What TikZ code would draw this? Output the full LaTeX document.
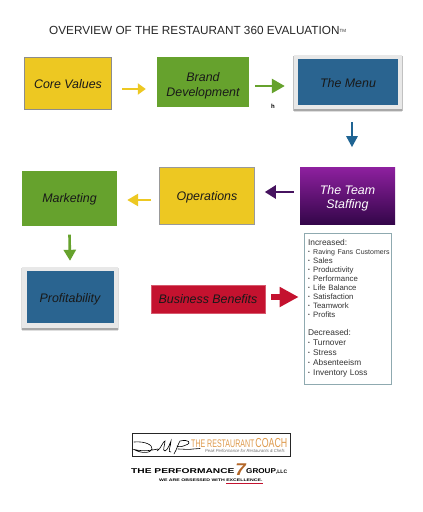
\documentclass[tikz,border=0pt]{standalone}
\usepackage{fontspec}
\usepackage{graphicx}
\setmainfont{Liberation Sans}
\usetikzlibrary{arrows.meta}
\definecolor{cyellow}{HTML}{EDC822}
\definecolor{cgreen}{HTML}{66A22D}
\definecolor{cblue}{HTML}{2A6490}
\definecolor{cpurpleT}{HTML}{8E209F}
\definecolor{cpurpleB}{HTML}{34064A}
\definecolor{cpurple}{HTML}{46135F}
\definecolor{cred}{HTML}{C4122F}
\definecolor{carrowblue}{HTML}{1F6493}
\definecolor{cframe}{HTML}{E8E8E8}
\definecolor{cbenefit}{HTML}{8FAAB0}
\definecolor{cogold}{HTML}{DE9A4C}
\definecolor{cogtxt}{HTML}{B4682A}
\newcommand{\fs}[1]{\fontsize{#1}{#1}\selectfont}
\newcommand{\bul}{\makebox[5.2pt][l]{\fs{5}\raisebox{.9pt}{•}}}
\newcommand{\hd}[1]{{\fontsize{8.4}{9}\selectfont #1}}
\newcommand{\dl}[1]{{\fontsize{8.3}{9}\selectfont #1}}
\tikzset{
  x=1pt,y=-1pt,
  boxtext/.style={align=center,font=\fs{12.4}\itshape\color{black!90},inner sep=0pt},
  yellowbox/.style={boxtext,fill=cyellow,draw=#1,line width=.6pt},
  yellowbox/.default=black!45,
  greenbox/.style={boxtext,fill=cgreen},
  framebox/.style={fill=cframe,inner sep=0pt},
  bluebox/.style={boxtext,fill=cblue},
  flow/.style={line width=2.6pt},
  softshadow/.style={fill=black,opacity=.13},
}
\begin{document}
\begin{tikzpicture}
\useasboundingbox (0,0) rectangle (423,512);
\fill[white] (0,0) rectangle (423,512);

\node[anchor=west,inner sep=0pt,font=\fs{11.75},color=black!85] (title) at (49,30)
  {OVERVIEW OF THE RESTAURANT 360 EVALUATION\raisebox{1.5pt}{\fs{4.5}TM}};

\node[yellowbox,minimum width=87.5,minimum height=52,text height=11.5pt] (core) at (68,83) {Core Values};
\node[greenbox,minimum width=92,minimum height=50] (brand) at (203,82) {\rule{0pt}{17pt}Brand\\[3pt]Development};
\foreach \d/\e in {3.6/.4,2.8/.9,2/1.3}{
  \fill[softshadow] (293.5-\e+.5,56) rectangle (402.5+\e-.5,108.5+\d);
}
\node[framebox,minimum width=108,minimum height=54] (menuframe) at (348,82) {};
\node[bluebox,minimum width=100,minimum height=46,text height=11pt] (menu) at (348,82) {The Menu};
\node[greenbox,minimum width=95,minimum height=55,text height=12pt] (marketing) at (69.5,198) {Marketing};
\node[yellowbox=black!40,minimum width=95,minimum height=57,text height=13.5pt] (operations) at (207,195.5) {Operations};
\node[boxtext,top color=cpurpleT,bottom color=cpurpleB,minimum width=95,minimum height=57,text=white] (team) at (347.5,195.5) {\rule{0pt}{15pt}The Team\\[2pt]Staffing};
\foreach \d/\e in {3.6/.4,2.8/.9,2/1.3}{
  \fill[softshadow] (22-\e+.5,268) rectangle (118+\e-.5,327.5+\d);
}
\node[framebox,minimum width=96,minimum height=61] (profitframe) at (70,297) {};
\node[bluebox,minimum width=87,minimum height=52.5,text height=13pt] (profit) at (70,297) {Profitability};
\node[boxtext,fill=cred,draw=cred!70!white,line width=.5pt,minimum width=114,minimum height=28] (business) at (208,299) {Business Benefits};

\node[draw=cbenefit,line width=.7pt,fill=white,minimum width=87,minimum height=151,inner sep=0pt,
      text width=79,align=left,text=black!80,font=\fontsize{7.8}{9}\selectfont] (benefits) at (347.5,308.5)
{\hd{Increased:}\\
 \mbox{\bul\fs{7}Raving Fans Customers}\\
 \bul Sales\\
 \bul Productivity\\
 \bul Performance\\
 \bul Life Balance\\
 \bul Satisfaction\\
 \bul Teamwork\\
 \bul Profits\\[9pt]
 \hd{Decreased:}\\[1pt]
 \bul \dl{Turnover}\\[1pt]
 \bul \dl{Stress}\\[1pt]
 \bul \dl{Absenteeism}\\[1pt]
 \bul \dl{Inventory Loss}};

\node[inner sep=0pt,font=\fs{6}\bfseries] (hmark) at (273,106.5) {h};

% connectors
\draw[flow,cyellow,-{Triangle[length=8,width=11]}] ([xshift=10pt,yshift=-6pt]core.east) -- ([xshift=-11pt,yshift=-7pt]brand.west);
\draw[flow,cgreen,-{Triangle[length=13,width=14]}] ([xshift=6pt,yshift=-4pt]brand.east) -- ([xshift=-9pt,yshift=-4pt]menuframe.west);
\draw[flow,carrowblue,-{Triangle[length=11,width=11]}] ([xshift=4pt,yshift=-13pt]menuframe.south) -- ([xshift=4pt,yshift=-38pt]menuframe.south);
\draw[flow,cpurple,-{Triangle[length=11,width=13]}] ([xshift=-6pt,yshift=3.5pt]team.west) -- ([xshift=10pt,yshift=3.5pt]operations.east);
\draw[flow,cyellow,-{Triangle[length=11,width=12]}] ([xshift=-8pt,yshift=-4.5pt]operations.west) -- ([xshift=10pt,yshift=-2pt]marketing.east);
\draw[flow,cgreen,-{Triangle[length=11,width=12]}] ([yshift=-9pt]marketing.south) -- ([yshift=5.5pt]profitframe.north);
\draw[cred,line width=5.5pt,-{Triangle[length=19,width=19]}] ([xshift=6pt,yshift=2pt]business.east) -- ([xshift=-5pt,yshift=11.5pt]benefits.west);

% logo
\node[draw=black!85,line width=.8pt,fill=white,minimum width=158,minimum height=23,inner sep=0pt] (coachlogo) at (211,444.5) {};
\node[anchor=west,inner sep=0pt,text=cogold] (coachname) at (191,443)
  {\scalebox{.64}[1]{\fs{11}THE RESTAURANT}\hspace{1pt}\scalebox{.68}[1]{\fs{13}COACH}};
\node[anchor=west,inner sep=0pt,text=black!55] (coachsub) at (205,451)
  {\scalebox{.94}[1]{\fs{4.4}\itshape Peak Performance for Restaurants \& Chefs}};
\draw[black,line width=.6pt,line cap=round]
  (134,442) .. controls (145,441) and (153,445) .. (152,449) .. controls (151,453) and (142,454) .. (134,449.5)
  .. controls (145,452) and (152,450) .. (158,449)
  (157,451) .. controls (161,449) and (163,441) .. (165,441) .. controls (165,445) and (162,451) .. (165,451)
  .. controls (168,450) and (170,443) .. (171,441) .. controls (171,446) and (167,453) .. (171,452)
  (174,454) .. controls (177,449) and (178,444) .. (180,441) .. controls (189,439) and (192,443) .. (186,445)
  .. controls (182,447) and (178,447) .. (177,446)
  (178,449) .. controls (184,449) and (188,450) .. (193,449) -- (200,448.5);
\node[anchor=west,inner sep=0pt,text=black] (pgname) at (131,471.5)
  {\scalebox{1.38}[.95]{\fs{7.4}\bfseries THE PERFORMANCE}};
\node[inner sep=0pt,text=cogtxt] (pgseven) at (240.5,470) {\scalebox{1.1}[1]{\fs{17}\bfseries\itshape 7}};
\node[anchor=west,inner sep=0pt,text=black] (pggroup) at (246,471.5)
  {\scalebox{1.1}[.95]{\fs{7.4}\bfseries GROUP}\raisebox{-.4pt}{\fs{5}\bfseries ,LLC}};
\node[anchor=west,inner sep=0pt,text=black] (pgtag) at (159,481.5)
  {\scalebox{1.4}[1]{\fs{3.7}\bfseries WE ARE OBSESSED WITH \textcolor{cred}{\underline{\textcolor{black}{EXCELLENCE.}}}}};
\end{tikzpicture}
\end{document}
